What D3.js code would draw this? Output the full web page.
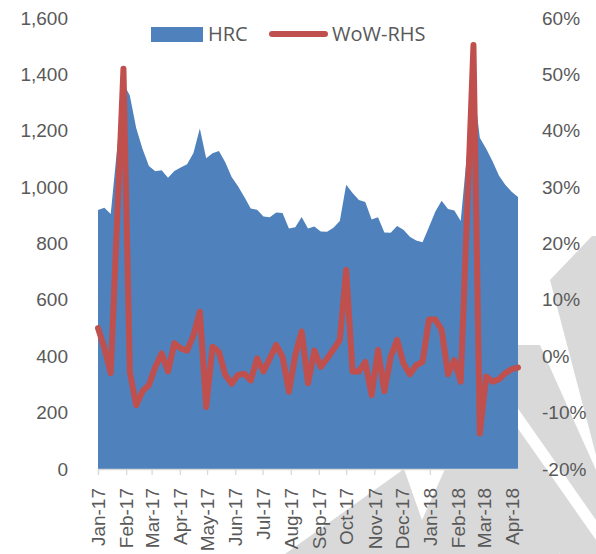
<!DOCTYPE html>
<html>
<head>
<meta charset="utf-8">
<script src="https://cdn.jsdelivr.net/npm/d3@7"></script>
<style>
  body { margin: 0; background: #fff; }
  svg { display: block; font-family: "Open Sans", sans-serif; }
</style>
</head>
<body>
<svg id="chart" width="596" height="554"></svg>
<script>
// weekly dates (Fridays); the two Chinese New Year weeks have no print
const dates = [
  "2017-01-06","2017-01-13","2017-01-20","2017-02-03","2017-02-10","2017-02-17","2017-02-24",
  "2017-03-03","2017-03-10","2017-03-17","2017-03-24","2017-03-31","2017-04-07","2017-04-14",
  "2017-04-21","2017-04-28","2017-05-05","2017-05-12","2017-05-19","2017-05-26","2017-06-02",
  "2017-06-09","2017-06-16","2017-06-23","2017-06-30","2017-07-07","2017-07-14","2017-07-21",
  "2017-07-28","2017-08-04","2017-08-11","2017-08-18","2017-08-25","2017-09-01","2017-09-08",
  "2017-09-15","2017-09-22","2017-09-29","2017-10-06","2017-10-13","2017-10-20","2017-10-27",
  "2017-11-03","2017-11-10","2017-11-17","2017-11-24","2017-12-01","2017-12-08","2017-12-15",
  "2017-12-22","2017-12-29","2018-01-05","2018-01-12","2018-01-19","2018-01-26","2018-02-02",
  "2018-02-09","2018-02-23","2018-03-02","2018-03-09","2018-03-16","2018-03-23","2018-03-30",
  "2018-04-06","2018-04-13"
]

// HRC price (LHS)
const hrc = [
  919, 927, 905, 1368, 1325, 1210, 1135,
  1075, 1056, 1060, 1033, 1057, 1070, 1081,
  1121, 1208, 1102, 1120, 1128, 1088, 1036,
  1003, 965, 924, 920, 896, 893, 910,
  908, 853, 858, 894, 853, 860, 843,
  842, 856, 880, 1008, 979, 954, 947,
  885, 893, 839, 838, 862, 849, 824,
  811, 804, 858, 913, 952, 922, 917,
  880, 1365, 1175, 1136, 1092, 1041, 1008,
  984, 965
]

// week-on-week change, % (RHS)
const wow = [
  5.0, 1.5, -3.0, 51.0, -2.8, -8.7, -6.2,
  -5.1, -1.9, 0.5, -2.7, 2.3, 1.4, 1.0,
  3.7, 7.9, -9.0, 1.7, 0.8, -3.3, -4.9,
  -3.3, -3.1, -4.3, -0.4, -2.7, -0.4, 2.0,
  -0.1, -6.3, 0.2, 4.4, -4.8, 1.0, -1.9,
  -0.4, 1.2, 2.9, 15.3, -2.7, -2.7, -1.0,
  -6.9, 1.1, -6.2, -0.1, 2.9, -1.3, -3.2,
  -1.6, -1.0, 6.5, 6.5, 4.7, -3.2, -0.7,
  -4.5, 55.2, -13.7, -3.6, -4.5, -4.1, -3.0,
  -2.3, -2.0
]

const leftTicks = [0, 200, 400, 600, 800, 1000, 1200, 1400, 1600]
const rightTicks = [-20, -10, 0, 10, 20, 30, 40, 50, 60]
const seriesNames = ["HRC", "WoW-RHS"]

const blue = "#4F81BD", red = "#C0504D", txt = "#595959"
const margin = {top: 18, right: 78, bottom: 85, left: 98}
const W = 596, H = 554
const pxX = W - margin.left - margin.right,
      pxY = H - margin.top - margin.bottom

const parse = d3.timeParse("%Y-%m-%d")
const data = dates.map((d, i) => ({date: parse(d), hrc: hrc[i], wow: wow[i]}))

const svg = d3.select("#chart")

// faint grey watermark behind the plot (rough)
const wm = svg.append("g").attr("fill", "#d9d9d9")
wm.append("path").attr("d", "M550,280 L592,236 L596,236 L596,455 Z")
wm.append("path").attr("d", "M512,345 L540,345 L596,470 L596,520 L512,400 Z")
wm.append("path").attr("d", "M512,420 L596,540 L596,554 L560,554 L512,480 Z")
wm.append("path").attr("d", "M285,554 L404,469 L422,520 L445,469 L518,469 L560,554 Z")

const g = svg.append("g").attr("transform", `translate(${margin.left},${margin.top})`)

const scX = d3.scaleTime().domain([data[0].date, data[data.length - 1].date]).range([0, pxX])
const scY = d3.scaleLinear().domain([0, 1600]).range([pxY, 0])
const scY2 = d3.scaleLinear().domain([-20, 60]).range([pxY, 0])

// area
const makeArea = d3.area().x(d => scX(d.date)).y0(scY(0)).y1(d => scY(d.hrc))
g.append("path").attr("d", makeArea(data)).attr("fill", blue)

// line
const makeLine = d3.line().x(d => scX(d.date)).y(d => scY2(d.wow))
g.append("path").attr("d", makeLine(data))
  .attr("fill", "none").attr("stroke", red).attr("stroke-width", 6)
  .attr("stroke-linejoin", "round").attr("stroke-linecap", "round")

// x axis, monthly ticks on the first date's day of month
const first = data[0].date, last = data[data.length - 1].date
const xTicks = d3.range(0, 16).map(m => d3.timeMonth.offset(first, m)).filter(d => d <= last)
const xAxis = d3.axisBottom(scX).tickValues(xTicks).tickFormat(d3.timeFormat("%b-%y")).tickSize(6)
const gx = g.append("g").attr("transform", `translate(0,${pxY})`).call(xAxis)
gx.select(".domain").attr("stroke", "#d9d9d9").attr("stroke-width", 1.3)
gx.selectAll(".tick line").attr("stroke", "#d9d9d9").attr("stroke-width", 1.3)
gx.selectAll("text")
  .attr("transform", "rotate(-90)")
  .attr("x", -19).attr("y", 0).attr("dy", "0.35em")
  .attr("text-anchor", "end")
  .attr("fill", txt).style("font-size", "19px")

// left axis
const gl = g.append("g").call(d3.axisLeft(scY).tickValues(leftTicks).tickFormat(d3.format(",")).tickSize(0).tickPadding(30))
gl.select(".domain").remove()
gl.selectAll("text").attr("fill", txt).style("font-size", "19px")

// right axis
const gr = g.append("g").attr("transform", `translate(${pxX},0)`)
  .call(d3.axisRight(scY2).tickValues(rightTicks).tickFormat(d => d + "%").tickSize(0).tickPadding(24))
gr.select(".domain").remove()
gr.selectAll("text").attr("fill", txt).style("font-size", "19px")

// legend
const lg = svg.append("g")
lg.append("rect").attr("x", 151).attr("y", 27).attr("width", 52).attr("height", 15).attr("fill", blue)
lg.append("text").attr("x", 208).attr("y", 34).attr("dy", "0.35em").attr("fill", txt)
  .style("font-size", "20px").text(seriesNames[0])
lg.append("line").attr("x1", 272).attr("x2", 325).attr("y1", 34).attr("y2", 34)
  .attr("stroke", red).attr("stroke-width", 6).attr("stroke-linecap", "round")
lg.append("text").attr("x", 332).attr("y", 34).attr("dy", "0.35em").attr("fill", txt)
  .style("font-size", "20px").text(seriesNames[1])
</script>
</body>
</html>
